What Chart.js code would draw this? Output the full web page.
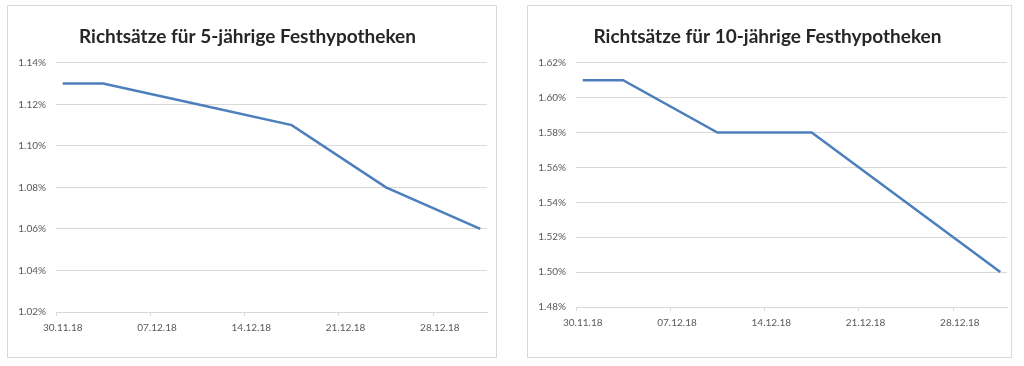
<!DOCTYPE html>
<html>
<head>
<meta charset="utf-8">
<script src="https://cdn.jsdelivr.net/npm/chart.js@4"></script>
<style>
    body { margin: 0; background: #fff; width: 1024px; height: 366px; overflow: hidden; }
    .card { position: absolute; border: 1px solid #d9d9d9; box-sizing: border-box; background: #fff; }
    #card5 { left: 7px; top: 5px; width: 490px; height: 353px; }
    #card10 { left: 527px; top: 5px; width: 485px; height: 353px; }
    .card canvas { position: absolute; left: 0; top: 0; }
</style>
</head>
<body>
<div class="card" id="card5"><canvas id="chart5" width="488" height="351"></canvas></div>
<div class="card" id="card10"><canvas id="chart10" width="483" height="351"></canvas></div>

<script>
// Days on the date axis (one slot per day)
const dayLabels = [
    '30.11.18', '01.12.18', '02.12.18', '03.12.18', '04.12.18', '05.12.18', '06.12.18',
    '07.12.18', '08.12.18', '09.12.18', '10.12.18', '11.12.18', '12.12.18', '13.12.18',
    '14.12.18', '15.12.18', '16.12.18', '17.12.18', '18.12.18', '19.12.18', '20.12.18',
    '21.12.18', '22.12.18', '23.12.18', '24.12.18', '25.12.18', '26.12.18', '27.12.18',
    '28.12.18', '29.12.18', '30.12.18', '31.12.18'
];

// Dates with a published rate
const rateDates = ['30.11.18', '03.12.18', '10.12.18', '17.12.18', '24.12.18', '31.12.18'];

// Rates in percent
const rates5 = [1.13, 1.13, 1.12, 1.11, 1.08, 1.06];
const rates10 = [1.61, 1.61, 1.58, 1.58, 1.54, 1.50];

const titles5 = 'Richtsätze für 5-jährige Festhypotheken';
const titles10 = 'Richtsätze für 10-jährige Festhypotheken';

Chart.defaults.font.family = 'Lato, sans-serif';
Chart.defaults.color = '#595959';

function makeChart(id, title, values, yMin, yMax, rightPad, bottomPad) {
    const ctx = document.getElementById(id).getContext('2d');
    return new Chart(ctx, {
        type: 'line',
        data: {
            labels: dayLabels,
            datasets: [{
                data: rateDates.map((d, i) => ({ x: d, y: values[i] })),
                borderColor: '#4d7fbc',
                borderWidth: 2.5,
                pointRadius: 0,
                tension: 0,
                fill: false
            }]
        },
        options: {
            responsive: false,
            animation: false,
            layout: { padding: { left: 0, right: rightPad, top: 0, bottom: bottomPad } },
            plugins: {
                legend: { display: false },
                tooltip: { enabled: false },
                title: {
                    display: true,
                    text: title,
                    color: '#262626',
                    font: { size: 19, weight: 'bold', family: 'Lato, sans-serif' },
                    padding: { top: 19, bottom: 15 }
                }
            },
            scales: {
                x: {
                    type: 'category',
                    offset: true,
                    afterFit: (scale) => { scale.height = 20; },
                    grid: {
                        offset: true,
                        drawOnChartArea: false,
                        drawTicks: true,
                        tickLength: 4,
                        color: (c) => (c.index % 7 === 0 ? '#d9d9d9' : 'rgba(0,0,0,0)')
                    },
                    border: { display: true, color: '#d9d9d9' },
                    ticks: {
                        autoSkip: false,
                        maxRotation: 0,
                        padding: 6,
                        font: { size: 10 },
                        callback: (v, i) => (i % 7 === 0 ? dayLabels[i] : '')
                    }
                },
                y: {
                    min: yMin,
                    max: yMax,
                    afterFit: (scale) => { scale.width = 48; },
                    grid: { color: '#d9d9d9', drawTicks: false },
                    border: { display: false },
                    ticks: {
                        stepSize: 0.02,
                        padding: 10,
                        font: { size: 10 },
                        callback: (v) => v.toFixed(2) + '%'
                    }
                }
            }
        }
    });
}

makeChart('chart5', titles5, rates5, 1.02, 1.14, 9, 25);
makeChart('chart10', titles10, rates10, 1.48, 1.62, 4, 30);
</script>
</body>
</html>
